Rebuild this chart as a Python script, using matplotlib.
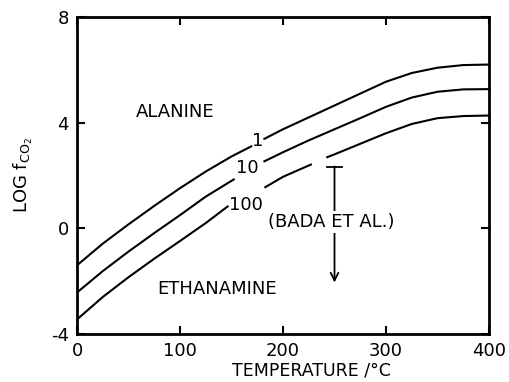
import numpy as np
import matplotlib
matplotlib.use("Agg")
import matplotlib.pyplot as plt

plt.rcParams["font.family"] = ["DejaVu Sans"]
plt.rcParams["axes.unicode_minus"] = False
plt.rcParams["mathtext.fontset"] = "dejavusans"

# Data (temperature in C, log fCO2); nan = gap for the label
temp_1 = [0, 25, 50, 75, 100, 125, 150, 170, np.nan, 181, 200, 225, 250, 275, 300, 325, 350, 375, 400]
log_1 = [-1.40, -0.58, 0.15, 0.85, 1.52, 2.15, 2.72, 3.12, np.nan, 3.37, 3.75, 4.20, 4.65, 5.10, 5.55, 5.88, 6.08, 6.18, 6.20]

temp_10 = [0, 25, 50, 75, 100, 125, 153, np.nan, 181, 200, 225, 250, 275, 300, 325, 350, 375, 400]
log_10 = [-2.43, -1.62, -0.88, -0.18, 0.50, 1.20, 1.87, np.nan, 2.52, 2.88, 3.33, 3.75, 4.17, 4.60, 4.95, 5.17, 5.26, 5.27]

temp_100 = [0, 25, 50, 75, 100, 125, 147, np.nan, 182, 200, 228, np.nan, 242, 250, 275, 300, 325, 350, 375, 400]
log_100 = [-3.45, -2.60, -1.85, -1.15, -0.48, 0.20, 0.85, np.nan, 1.54, 1.95, 2.43, np.nan, 2.68, 2.80, 3.20, 3.60, 3.95, 4.17, 4.25, 4.27]

curve_labels = ["1", "10", "100"]
label_x = [175, 165, 164]
label_y = [3.3, 2.27, 0.9]

x_ticks = [0, 100, 200, 300, 400]
y_ticks = [-4, 0, 4, 8]

# Bada et al. marker
bada_x = 250
bada_top = 2.34
bada_tip = -2.05

fig = plt.figure(figsize=(5.09, 3.82), dpi=100)
ax = fig.add_axes([0.1513, 0.1257, 0.8094, 0.8298])

for t, y in [(temp_1, log_1), (temp_10, log_10), (temp_100, log_100)]:
    ax.plot(t, y, color="black", lw=1.5, solid_capstyle="butt")

for lab, lx, ly in zip(curve_labels, label_x, label_y):
    ax.text(lx, ly, lab, ha="center", va="center", fontsize=13)

ax.text(95, 4.4, "ALANINE", ha="center", va="center", fontsize=13)
ax.text(136, -2.3, "ETHANAMINE", ha="center", va="center", fontsize=13)

# vertical arrow with a T bar on top
ax.annotate("", xy=(bada_x, bada_tip), xytext=(bada_x, bada_top),
            arrowprops=dict(arrowstyle="->", color="black", lw=1.3,
                            shrinkA=0, shrinkB=0, mutation_scale=14))
ax.plot([bada_x - 7, bada_x + 7], [bada_top, bada_top], color="black", lw=1.3)
ax.text(247, 0.25, "(BADA ET AL.)", ha="center", va="center", fontsize=13,
        bbox=dict(facecolor="white", edgecolor="none", pad=1.5))

ax.set_xlim(0, 400)
ax.set_ylim(-4, 8)
ax.set_xticks(x_ticks)
ax.set_yticks(y_ticks)
ax.tick_params(direction="in", length=6, width=1.5, top=True, right=True,
               labelsize=13, pad=6)
for s in ax.spines.values():
    s.set_linewidth(2)

ax.set_xlabel("TEMPERATURE /°C", fontsize=12.5, x=0.568, labelpad=1)
ax.set_ylabel(r"LOG f$_{\mathrm{CO}_2}$", fontsize=13, labelpad=11)

plt.savefig("out.png", dpi=100)
